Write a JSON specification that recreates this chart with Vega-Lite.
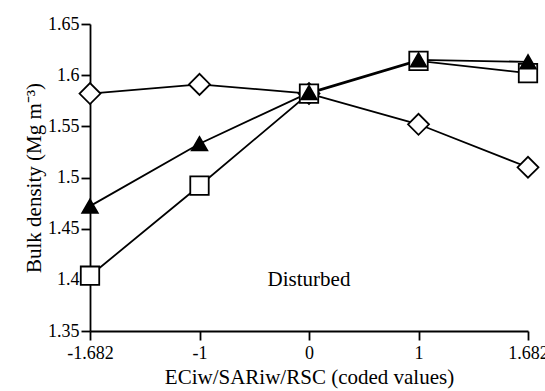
{
  "$schema": "https://vega.github.io/schema/vega-lite/v6.json",
  "width": 438,
  "height": 307,
  "autosize": {"type": "none"},
  "padding": {"left": 90, "top": 24, "right": 17, "bottom": 60},
  "background": "white",
  "config": {
    "view": {"stroke": null},
    "font": "Liberation Serif",
    "axis": {
      "domainColor": "black",
      "domainWidth": 1.8,
      "tickColor": "black",
      "tickWidth": 1.8,
      "tickSize": 9,
      "grid": false,
      "labelFont": "Liberation Serif",
      "labelFontSize": 18,
      "labelColor": "black",
      "titleFont": "Liberation Serif",
      "titleFontSize": 21,
      "titleFontWeight": "normal",
      "titleColor": "black"
    }
  },
  "datasets": {
    "points": [
      {"series": "A", "x": "-1.682", "y": 1.582},
      {"series": "A", "x": "-1", "y": 1.591},
      {"series": "A", "x": "0", "y": 1.582},
      {"series": "A", "x": "1", "y": 1.552},
      {"series": "A", "x": "1.682", "y": 1.51},
      {"series": "B", "x": "-1.682", "y": 1.404},
      {"series": "B", "x": "-1", "y": 1.492},
      {"series": "B", "x": "0", "y": 1.582},
      {"series": "B", "x": "1", "y": 1.614},
      {"series": "B", "x": "1.682", "y": 1.602},
      {"series": "C", "x": "-1.682", "y": 1.472},
      {"series": "C", "x": "-1", "y": 1.533},
      {"series": "C", "x": "0", "y": 1.583},
      {"series": "C", "x": "1", "y": 1.615},
      {"series": "C", "x": "1.682", "y": 1.613}
    ],
    "note": [
      {"label": "Disturbed", "x": "0", "y": 1.4}
    ]
  },
  "layer": [
    {
      "data": {"name": "points"},
      "mark": {"type": "line", "color": "black", "strokeWidth": 1.8},
      "encoding": {
        "x": {
          "field": "x",
          "type": "ordinal",
          "sort": ["-1.682", "-1", "0", "1", "1.682"],
          "scale": {"type": "point", "padding": 0},
          "axis": {"labelAngle": 0, "labelPadding": 4, "labelFont": "Liberation Serif", "labelFontSize": 18, "titleFont": "Liberation Serif", "titleFontSize": 21, "titleFontWeight": "normal", "title": "ECiw/SARiw/RSC (coded values)", "titlePadding": 4}
        },
        "y": {
          "field": "y",
          "type": "quantitative",
          "scale": {"domain": [1.35, 1.65], "nice": false, "zero": false},
          "axis": {"values": [1.35, 1.4, 1.45, 1.5, 1.55, 1.6, 1.65], "format": ".2~f", "labelPadding": 2, "labelFont": "Liberation Serif", "labelFontSize": 18, "titleFont": "Liberation Serif", "titleFontSize": 21, "titleFontWeight": "normal", "title": "Bulk density (Mg m⁻³)", "titlePadding": 3}
        },
        "detail": {"field": "series"}
      }
    },
    {
      "data": {"name": "points"},
      "mark": {"type": "point", "filled": false, "opacity": 1, "strokeWidth": 1.8, "stroke": "black"},
      "encoding": {
        "x": {"field": "x", "type": "ordinal", "sort": ["-1.682", "-1", "0", "1", "1.682"]},
        "y": {"field": "y", "type": "quantitative"},
        "shape": {"field": "series", "scale": {"domain": ["A", "B", "C"], "range": ["diamond", "square", "triangle-up"]}, "legend": null},
        "fill": {"field": "series", "scale": {"domain": ["A", "B", "C"], "range": ["white", "white", "black"]}, "legend": null},
        "size": {"field": "series", "type": "nominal", "scale": {"domain": ["A", "B", "C"], "range": [440, 240, 430]}, "legend": null}
      }
    },
    {
      "data": {"name": "note"},
      "mark": {"type": "text", "font": "Liberation Serif", "fontSize": 21, "color": "black"},
      "encoding": {
        "x": {"field": "x", "type": "ordinal", "sort": ["-1.682", "-1", "0", "1", "1.682"]},
        "y": {"field": "y", "type": "quantitative"},
        "text": {"field": "label"}
      }
    }
  ]
}
